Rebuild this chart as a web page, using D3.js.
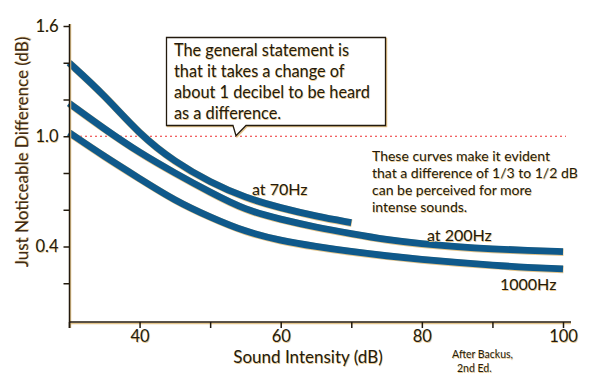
<!DOCTYPE html>
<html>
<head>
<meta charset="utf-8">
<script src="https://cdn.jsdelivr.net/npm/d3@7"></script>
<style>
  body { margin: 0; background: #fff; }
  svg { display: block; }
  text { font-family: Lato, "Open Sans", sans-serif; fill: #231a0e; text-shadow: 0.7px 0.7px 0.4px #e9c98f; }
</style>
</head>
<body>
<svg id="chart" width="600" height="383"></svg>
<script>
// Just noticeable difference vs. sound intensity (after Backus)
const intensity = [30, 35, 40, 45, 50, 55, 60, 65, 70, 75, 80, 85, 90, 95, 100];
const jnd70 = [1.40, 1.225, 1.01, 0.86, 0.75, 0.665, 0.61, 0.565, 0.53];
const jnd200 = [1.18, 1.04, 0.91, 0.80, 0.695, 0.598, 0.548, 0.505, 0.47, 0.437, 0.415, 0.399, 0.387, 0.378, 0.372];
const jnd1000 = [1.02, 0.89, 0.77, 0.65, 0.56, 0.48, 0.432, 0.40, 0.372, 0.349, 0.33, 0.313, 0.299, 0.286, 0.278];
const yTicks = [0.2, 0.4, 0.6, 0.8, 1.0, 1.2, 1.4, 1.6];
const yLabels = ['0.4', '1.0', '1.6'];
const xTicks = [30, 40, 50, 60, 70, 80, 90, 100];
const xLabels = ['40', '60', '80', '100'];
const thresholdDb = 1.0;

const svg = d3.select('#chart');
const x = d3.scaleLinear().domain([30, 100]).range([69, 563]);
const y = d3.scaleLinear().domain([0, 1.6]).range([320, 26]);

const dark = '#231a0e', tan = '#e3c48a', blue = '#0f598b';

// dotted 1 dB line
svg.append('line')
  .attr('x1', 80).attr('x2', 566)
  .attr('y1', y(thresholdDb)).attr('y2', y(thresholdDb))
  .attr('stroke', '#ee3030').attr('stroke-width', 1.2)
  .attr('stroke-dasharray', '2,3');

// curves
const line = d3.line()
  .x((d, i) => x(intensity[i]))
  .y(d => y(d))
  .curve(d3.curveBasis);

[jnd70, jnd200, jnd1000].forEach(s => {
  svg.append('path').attr('d', line(s)).attr('fill', 'none')
    .attr('stroke', tan).attr('stroke-width', 7.5)
    .attr('transform', 'translate(0.5,0.6)');
  svg.append('path').attr('d', line(s)).attr('fill', 'none')
    .attr('stroke', blue).attr('stroke-width', 6.8);
});

// axes
const yAxis = d3.axisLeft(y).tickValues(yTicks).tickSize(6)
  .tickFormat(d => yLabels.includes(d.toFixed(1)) ? d.toFixed(1) : '');
const xAxis = d3.axisBottom(x).tickValues(xTicks).tickSize(6)
  .tickFormat(d => xLabels.includes(String(d)) ? String(d) : '');

function styleAxis(g) {
  g.select('.domain').remove();
  g.selectAll('.tick line').attr('stroke', dark).attr('stroke-width', 1.5);
  g.selectAll('.tick text').attr('font-size', 16.5).style('font-family', null);
}

svg.append('line').attr('x1', 70.5).attr('x2', 70.5).attr('y1', 24).attr('y2', 328)
  .attr('stroke', tan).attr('stroke-width', 1.5);
svg.append('line').attr('x1', 69).attr('x2', 571).attr('y1', 323.5).attr('y2', 323.5)
  .attr('stroke', tan).attr('stroke-width', 1.5);

svg.append('g').attr('transform', 'translate(69.5,0)').call(yAxis).call(styleAxis)
  .selectAll('.tick text').attr('x', -11);
svg.append('g').attr('transform', 'translate(0,322)').call(xAxis).call(styleAxis)
  .selectAll('.tick text').attr('y', 8.5);

svg.append('line').attr('x1', 69.5).attr('x2', 69.5).attr('y1', 24).attr('y2', 328)
  .attr('stroke', dark).attr('stroke-width', 1.5);
svg.append('line').attr('x1', 69).attr('x2', 571).attr('y1', 322).attr('y2', 322)
  .attr('stroke', dark).attr('stroke-width', 1.5);

// axis titles
svg.append('text').attr('transform', 'translate(28,152) rotate(-90)')
  .attr('text-anchor', 'middle').attr('font-size', 17)
  .style('fill', '#3e2a14')
  .text('Just Noticeable Difference (dB)');
svg.append('text').attr('x', 308).attr('y', 363)
  .attr('text-anchor', 'middle').attr('font-size', 17)
  .text('Sound Intensity (dB)');
svg.append('text').attr('x', 452).attr('y', 358).attr('font-size', 10.5).text('After Backus,');
svg.append('text').attr('x', 457).attr('y', 372).attr('font-size', 10.5).text('2nd Ed.');

// curve labels
svg.append('text').attr('x', 252).attr('y', 195).attr('font-size', 16).text('at 70Hz');
svg.append('text').attr('x', 427).attr('y', 241).attr('font-size', 16).text('at 200Hz');
svg.append('text').attr('x', 500).attr('y', 290).attr('font-size', 16).text('1000Hz');

// callout box
const bx0 = 166.5, by0 = 37.5, bx1 = 385.5, by1 = 125.5;
const tipX = 236, tipY = y(thresholdDb) - 0.5;
const boxPath = `M${bx0},${by0}H${bx1}V${by1}H246L${tipX},${tipY}L233,${by1}H${bx0}Z`;
svg.append('path').attr('d', boxPath)
  .attr('fill', '#fff').attr('stroke', tan).attr('stroke-width', 1.5)
  .attr('transform', 'translate(1,1)');
svg.append('path').attr('d', boxPath)
  .attr('fill', '#fff').attr('stroke', dark).attr('stroke-width', 1.3);

const boxLines = ['The general statement is', 'that it takes a change of',
  'about 1 decibel to be heard', 'as a difference.'];
svg.append('text').attr('font-size', 16.3)
  .selectAll('tspan').data(boxLines).join('tspan')
  .attr('x', 174).attr('y', (d, i) => 56 + i * 21).text(d => d);

const noteLines = ['These curves make it evident', 'that a difference of 1/3 to 1/2 dB',
  'can be perceived for more', 'intense sounds.'];
svg.append('text').attr('font-size', 14)
  .selectAll('tspan').data(noteLines).join('tspan')
  .attr('x', 372).attr('y', (d, i) => 161 + i * 17).text(d => d);
</script>
</body>
</html>
